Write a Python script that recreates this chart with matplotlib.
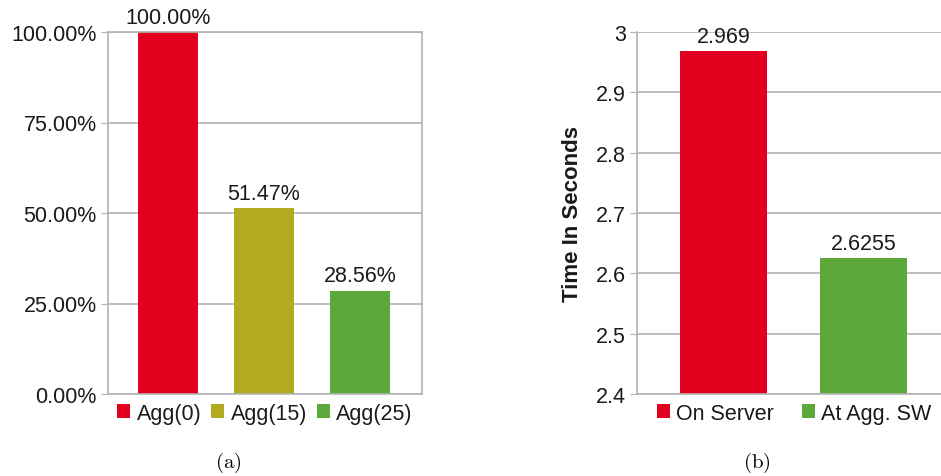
import numpy as np
import matplotlib.pyplot as plt
from matplotlib.ticker import FuncFormatter

plt.rcParams['font.family'] = ['Liberation Sans', 'DejaVu Sans']
plt.rcParams['mathtext.fontset'] = 'cm'

# (a) 집계 비율
agg_labels = ['Agg(0)', 'Agg(15)', 'Agg(25)']
agg_values = [100.00, 51.47, 28.56]
agg_colors = ['#e3001f', '#b3aa1f', '#5ca83b']
pct_ticks = [0, 25, 50, 75, 100]

# (b) 처리 시간
loc_labels = ['On Server', 'At Agg. SW']
loc_values = [2.969, 2.6255]
loc_colors = ['#e3001f', '#5ca83b']
sec_ticks = [2.4, 2.5, 2.6, 2.7, 2.8, 2.9, 3.0]

W, H = 941, 477
fig = plt.figure(figsize=(W / 100, H / 100), dpi=100)

def px_axes(x0, x1, y0, y1):
    return fig.add_axes([x0 / W, 1 - y1 / H, (x1 - x0) / W, (y1 - y0) / H])

grid_c = '#b3b3b3'
txt_c = '#1a1a1a'
fs = 15.5

def style(ax):
    ax.set_axisbelow(True)
    ax.yaxis.grid(True, color=grid_c, lw=1.2)
    for s in ax.spines.values():
        s.set_color(grid_c)
        s.set_linewidth(1.2)
    ax.tick_params(axis='y', length=5, color=grid_c, labelsize=fs, labelcolor=txt_c, pad=3)
    ax.tick_params(axis='x', length=0, labelbottom=False)

# ---- (a)
ax1 = px_axes(108, 422, 33, 395)
x1 = np.arange(len(agg_values))
b1 = ax1.bar(x1, agg_values, width=0.625, color=agg_colors)
ax1.set_xlim(-0.625, 2.646)
ax1.set_ylim(0, 100)
ax1.set_yticks(pct_ticks)
ax1.yaxis.set_major_formatter(FuncFormatter(lambda v, p: f'{v:.2f}%'))
style(ax1)
ax1.bar_label(b1, labels=[f'{v:.2f}%' for v in agg_values], padding=3,
              fontsize=fs, color=txt_c, clip_on=False)
ax1.legend(handles=b1.patches, labels=agg_labels, loc='upper center',
           bbox_to_anchor=(0.5, 0.012), ncol=3, frameon=False, fontsize=fs,
           handlelength=0.6, handleheight=0.6, handletextpad=0.3,
           columnspacing=0.45, borderaxespad=0.2, labelcolor=txt_c)
fig.text(228 / W, 1 - 463 / H, r'$\mathrm{(a)}$', ha='center', va='center', fontsize=15)

# ---- (b)
ax2 = px_axes(637, 941, 33, 395)
x2 = np.arange(len(loc_values))
b2 = ax2.bar(x2, loc_values, width=0.621, color=loc_colors)
ax2.set_xlim(-0.618, 1.554)
ax2.set_ylim(2.4, 3.0)
ax2.set_yticks(sec_ticks)
ax2.yaxis.set_major_formatter(FuncFormatter(lambda v, p: f'{v:g}'))
style(ax2)
ax2.spines['right'].set_visible(False)
ax2.spines['top'].set_visible(False)
ax2.bar_label(b2, labels=['2.969', '2.6255'], padding=3, fontsize=fs, color=txt_c)
ax2.set_ylabel('Time In Seconds', fontsize=16, fontweight='bold', color=txt_c, labelpad=9)
ax2.legend(handles=b2.patches, labels=loc_labels, loc='upper center',
           bbox_to_anchor=(0.517, 0.012), ncol=2, frameon=False, fontsize=fs,
           handlelength=0.6, handleheight=0.6, handletextpad=0.3,
           columnspacing=1.3, borderaxespad=0.2, labelcolor=txt_c)
fig.text(757 / W, 1 - 463 / H, r'$\mathrm{(b)}$', ha='center', va='center', fontsize=15)

fig.savefig('out.png', dpi=100)
